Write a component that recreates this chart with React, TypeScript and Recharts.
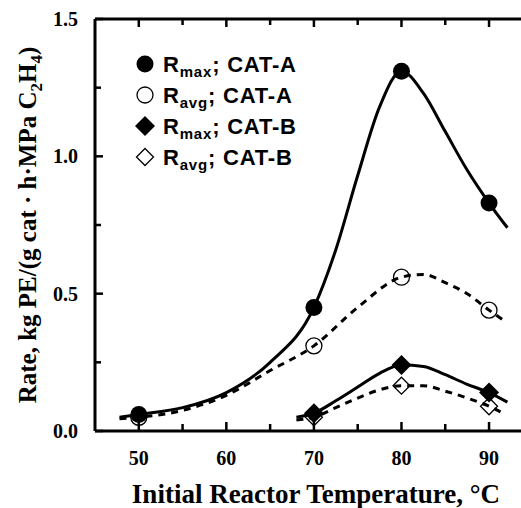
import React from 'react';
import { ComposedChart, Line, Scatter, XAxis, YAxis, Legend } from 'recharts';

// measured points
const tempsA = [50, 70, 80, 90];
const rmaxA = [0.06, 0.45, 1.31, 0.83];
const ravgA = [0.05, 0.31, 0.56, 0.44];
const tempsB = [70, 80, 90];
const rmaxB = [0.065, 0.24, 0.14];
const ravgB = [0.05, 0.165, 0.09];

// fitted curves
const fitRmaxAT = [47.8, 50, 55, 60, 65, 70, 72.5, 75, 77.5, 80, 82.5, 85, 87.5, 90, 92.1];
const fitRmaxAV = [0.05, 0.06, 0.085, 0.14, 0.25, 0.45, 0.66, 0.93, 1.18, 1.31, 1.23, 1.09, 0.95, 0.83, 0.74];
const fitRavgAT = [47.8, 50, 55, 60, 65, 70, 75, 80, 82.5, 85, 87.5, 90, 91.8];
const fitRavgAV = [0.045, 0.05, 0.075, 0.13, 0.22, 0.31, 0.45, 0.56, 0.57, 0.54, 0.5, 0.44, 0.4];
const fitRmaxBT = [68, 70, 72.5, 75, 77.5, 80, 82.5, 85, 87.5, 90, 92.1];
const fitRmaxBV = [0.05, 0.065, 0.11, 0.16, 0.21, 0.24, 0.235, 0.205, 0.17, 0.14, 0.105];
const fitRavgBT = [68, 70, 72.5, 75, 77.5, 80, 82.5, 85, 87.5, 90, 91.6];
const fitRavgBV = [0.04, 0.05, 0.085, 0.12, 0.15, 0.165, 0.165, 0.145, 0.12, 0.09, 0.065];

const xTicks = [50, 55, 60, 65, 70, 75, 80, 85, 90];
const xMajor = [50, 60, 70, 80, 90];
const yTicks = [0, 0.25, 0.5, 0.75, 1.0, 1.25, 1.5];
const yMajor = [0, 0.5, 1.0, 1.5];

const legendItems = [
  { sub: 'max', cat: 'CAT-A', shape: 'circle', filled: true },
  { sub: 'avg', cat: 'CAT-A', shape: 'circle', filled: false },
  { sub: 'max', cat: 'CAT-B', shape: 'diamond', filled: true },
  { sub: 'avg', cat: 'CAT-B', shape: 'diamond', filled: false },
];

const zip = (xs: number[], ys: number[]) => xs.map((t, i) => ({ t, v: ys[i] }));

const SERIF = '"Liberation Serif", "Times New Roman", serif';
const SANS = '"Liberation Sans", Arial, sans-serif';

const Marker = ({ cx, cy, shape, filled }: any) => {
  if (cx == null || cy == null) return null;
  if (shape === 'circle') {
    return filled ? (
      <circle cx={cx} cy={cy} r={8.5} fill="#000" />
    ) : (
      <circle cx={cx} cy={cy} r={8} fill="none" stroke="#000" strokeWidth={1.3} />
    );
  }
  const s = filled ? 10 : 8.5;
  const d = `M${cx},${cy - s}L${cx + s},${cy}L${cx},${cy + s}L${cx - s},${cy}Z`;
  return filled ? <path d={d} fill="#000" /> : <path d={d} fill="none" stroke="#000" strokeWidth={1.3} />;
};

const YTick = ({ x, y, payload }: any) => {
  const v = payload.value;
  const major = yMajor.some((m) => Math.abs(m - v) < 1e-6);
  const ax = x + 17;
  return (
    <g>
      <line x1={ax} y1={y} x2={ax + (major ? 8 : 6)} y2={y} stroke="#000" strokeWidth={2.5} />
      {major && (
        <text x={x} y={y} dy={7} textAnchor="end" fontFamily={SERIF} fontWeight="bold" fontSize={20} fill="#000">
          {v.toFixed(1)}
        </text>
      )}
    </g>
  );
};

const XTick = ({ x, y, payload }: any) => {
  const v = payload.value;
  const major = xMajor.includes(v);
  const ay = y - 19;
  return (
    <g>
      <line x1={x} y1={ay} x2={x} y2={ay - (major ? 9 : 7)} stroke="#000" strokeWidth={2.5} />
      {major && (
        <text x={x} y={y} dy={15} textAnchor="middle" fontFamily={SERIF} fontWeight="bold" fontSize={20} fill="#000">
          {v}
        </text>
      )}
    </g>
  );
};

const TopTick = ({ x, y, payload }: any) => {
  const major = xMajor.includes(payload.value);
  return <line x1={x} y1={y} x2={x} y2={y + (major ? 8 : 6)} stroke="#000" strokeWidth={2.5} />;
};

const LegendContent = () => (
  <svg width={240} height={130}>
    {legendItems.map((it, i) => {
      const cy = 16 + i * 31;
      return (
        <g key={i}>
          <Marker cx={15} cy={cy} shape={it.shape} filled={it.filled} />
          <text x={33} y={cy + 8} fontFamily={SANS} fontWeight="bold" fontSize={22} letterSpacing={0.8} fill="#000">
            R
            <tspan fontSize={15} dy={5}>{it.sub}</tspan>
            <tspan dy={-5}>{'; ' + it.cat}</tspan>
          </text>
        </g>
      );
    })}
  </svg>
);

export default function App() {
  return (
    <div style={{ position: 'absolute', left: 0, top: 0, width: 521, height: 508, background: '#fff' }}>
      <ComposedChart width={521} height={508} margin={{ top: 9, right: 0, bottom: 0, left: 0 }}>
        <XAxis
          xAxisId="top"
          orientation="top"
          type="number"
          dataKey="t"
          domain={[45, 93.65]}
          allowDataOverflow
          ticks={xTicks}
          height={10}
          tickSize={0}
          tickMargin={0}
          tick={<TopTick />}
          axisLine={{ stroke: '#000', strokeWidth: 3 }}
        />
        <XAxis
          type="number"
          dataKey="t"
          domain={[45, 93.65]}
          allowDataOverflow
          ticks={xTicks}
          height={77}
          tickSize={0}
          tickMargin={19}
          tick={<XTick />}
          interval={0}
          axisLine={{ stroke: '#000', strokeWidth: 3 }}
          label={{
            content: () => (
              <text x={316} y={503} textAnchor="middle" fontFamily={SERIF} fontWeight="bold" fontSize={27} fill="#000">
                Initial Reactor Temperature, °C
              </text>
            ),
          }}
        />
        <YAxis
          type="number"
          dataKey="v"
          domain={[0, 1.5]}
          ticks={yTicks}
          width={95}
          tickSize={0}
          tickMargin={17}
          tick={<YTick />}
          interval={0}
          axisLine={{ stroke: '#000', strokeWidth: 3 }}
          label={{
            content: () => (
              <text
                x={36}
                y={225}
                textAnchor="middle"
                transform="rotate(-90, 36, 225)"
                fontFamily={SERIF}
                fontWeight="bold"
                fontSize={25}
                fill="#000"
              >
                Rate, kg PE/(g cat · h·MPa C
                <tspan fontSize={17} dy={6}>2</tspan>
                <tspan dy={-6}>H</tspan>
                <tspan fontSize={17} dy={6}>4</tspan>
                <tspan dy={-6}>)</tspan>
              </text>
            ),
          }}
        />
        <Legend
          layout="vertical"
          verticalAlign="middle"
          align="center"
          content={<LegendContent />}
          wrapperStyle={{ position: 'absolute', left: 130, top: 48, width: 240, height: 130 }}
        />
        <Line data={zip(fitRmaxAT, fitRmaxAV)} dataKey="v" type="monotone" stroke="#000" strokeWidth={3} dot={false} isAnimationActive={false} legendType="none" />
        <Line data={zip(fitRavgAT, fitRavgAV)} dataKey="v" type="monotone" stroke="#000" strokeWidth={3} strokeDasharray="7 6" dot={false} isAnimationActive={false} legendType="none" />
        <Line data={zip(fitRmaxBT, fitRmaxBV)} dataKey="v" type="monotone" stroke="#000" strokeWidth={3} dot={false} isAnimationActive={false} legendType="none" />
        <Line data={zip(fitRavgBT, fitRavgBV)} dataKey="v" type="monotone" stroke="#000" strokeWidth={3} strokeDasharray="7 6" dot={false} isAnimationActive={false} legendType="none" />
        <Scatter data={zip(tempsA, rmaxA)} dataKey="v" isAnimationActive={false} shape={(p: any) => <Marker cx={p.cx} cy={p.cy} shape="circle" filled />} />
        <Scatter data={zip(tempsA, ravgA)} dataKey="v" isAnimationActive={false} shape={(p: any) => <Marker cx={p.cx} cy={p.cy} shape="circle" filled={false} />} />
        <Scatter data={zip(tempsB, rmaxB)} dataKey="v" isAnimationActive={false} shape={(p: any) => <Marker cx={p.cx} cy={p.cy} shape="diamond" filled />} />
        <Scatter data={zip(tempsB, ravgB)} dataKey="v" isAnimationActive={false} shape={(p: any) => <Marker cx={p.cx} cy={p.cy} shape="diamond" filled={false} />} />
      </ComposedChart>
    </div>
  );
}
